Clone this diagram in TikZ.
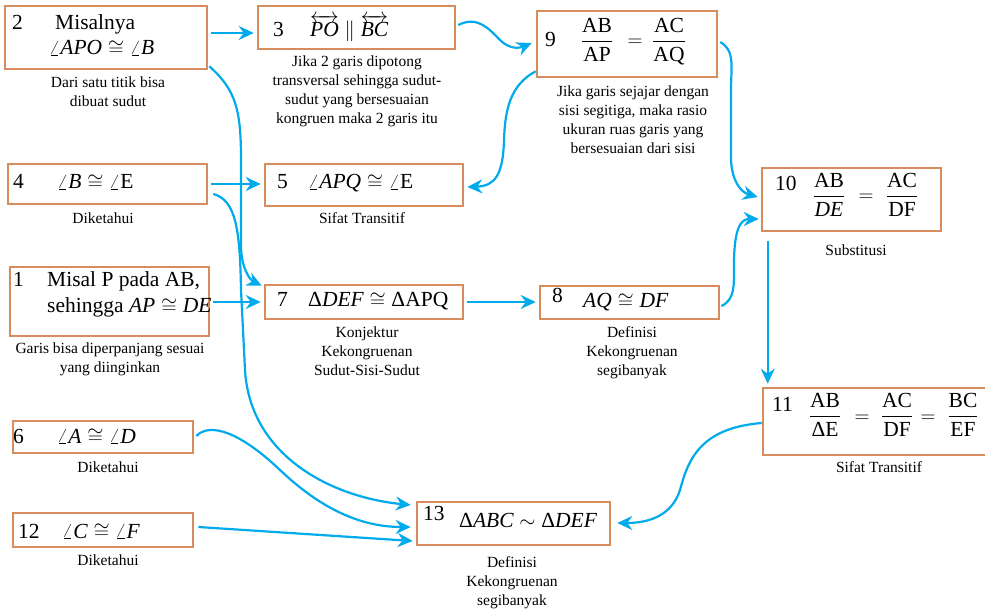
\documentclass[tikz,border=0pt]{standalone}
\usepackage{amsmath}
\usepackage{fontspec}
\setmainfont{Liberation Serif}
\usetikzlibrary{arrows.meta,calc}
\definecolor{boxc}{RGB}{214,140,92}
\definecolor{arrc}{RGB}{0,170,235}
\newcommand\boxfont{\fontsize{21.5}{25}\selectfont}
\newcommand\capfont{\fontsize{15.5}{19}\selectfont}
\begin{document}
\begin{tikzpicture}[x=1pt,y=-1pt,
 box/.style={draw=boxc,line width=2.6pt,inner sep=0pt,rectangle},
 txt/.style={anchor=base west,inner sep=0pt,font=\boxfont},
 ctr/.style={anchor=base,inner sep=0pt,font=\boxfont},
 capt/.style={anchor=base,inner sep=0pt,font=\capfont,align=center},
 arr/.style={draw=arrc,line width=2.2pt,-{Stealth[length=15pt,width=14pt,inset=5pt]}}]
\useasboundingbox (0,0) rectangle (985,609);

% boxes
\node[box,minimum width=202pt,minimum height=63pt] (n2) at (106,37.5) {};
\node[box,minimum width=197pt,minimum height=43pt] (n3) at (356.5,27.5) {};
\node[box,minimum width=180pt,minimum height=66pt] (n9) at (627,44) {};
\node[box,minimum width=199pt,minimum height=40pt] (n4) at (107.5,184) {};
\node[box,minimum width=198pt,minimum height=42pt] (n5) at (364,185) {};
\node[box,minimum width=199pt,minimum height=69pt] (n1) at (109.5,301.5) {};
\node[box,minimum width=198pt,minimum height=34pt] (n7) at (364,302) {};
\node[box,minimum width=179pt,minimum height=33pt] (n8) at (629.5,302.5) {};
\node[box,minimum width=179pt,minimum height=63pt] (n10) at (851.5,199.5) {};
\node[box,minimum width=232pt,minimum height=67pt] (n11) at (879,421.5) {};
\node[box,minimum width=180pt,minimum height=32pt] (n6) at (103,437) {};
\node[box,minimum width=180pt,minimum height=34pt] (n12) at (103,530) {};
\node[box,minimum width=193pt,minimum height=43pt] (n13) at (513.5,523.5) {};

% box texts
\node[txt] (t2a) at (12,30) {2};
\node[txt] (t2b) at (55,30) {Misalnya};
\node[txt] (t2c) at (49,55) {$\angle\textit{APO}\cong\angle\textit{B}$};
\node[txt] (t3a) at (273,37) {3};
\node[txt] (t3b) at (310,37) {$\overleftrightarrow{\textit{PO}}\parallel\overleftrightarrow{\textit{BC}}$};
\node[txt] (t9a) at (545,47) {9};
\node[ctr] (t9b) at (597,47) {$\dfrac{\text{AB}}{\text{AP}}$};
\node[ctr] (t9c) at (635,47) {$=$};
\node[ctr] (t9d) at (669,47) {$\dfrac{\text{AC}}{\text{AQ}}$};
\node[txt] (t4a) at (13,189) {4};
\node[txt] (t4b) at (57,189) {$\angle\textit{B}\cong\angle\text{E}$};
\node[txt] (t5a) at (277,189) {5};
\node[txt] (t5b) at (308,189) {$\angle\textit{APQ}\cong\angle\text{E}$};
\node[txt] (t1a) at (13,287) {1};
\node[txt] (t1b) at (47,287) {Misal P pada AB,};
\node[txt] (t1c) at (47,313) {sehingga $\textit{AP}\cong\textit{DE}$};
\node[txt] (t7a) at (277,307) {7};
\node[txt] (t7b) at (308,307) {$\text{Δ}\textit{DEF}\cong\text{ΔAPQ}$};
\node[txt] (t8a) at (552,303) {8};
\node[txt] (t8b) at (583,308) {$\textit{AQ}\cong\textit{DF}$};
\node[txt] (t10a) at (775,191) {10};
\node[ctr] (t10b) at (829,202) {$\dfrac{\text{AB}}{\textit{DE}}$};
\node[ctr] (t10c) at (866,202) {$=$};
\node[ctr] (t10d) at (902,202) {$\dfrac{\text{AC}}{\text{DF}}$};
\node[txt] (t11a) at (772,411) {11};
\node[ctr] (t11b) at (825,422) {$\dfrac{\text{AB}}{\text{ΔE}}$};
\node[ctr] (t11c) at (862,422) {$=$};
\node[ctr] (t11d) at (897,422) {$\dfrac{\text{AC}}{\text{DF}}$};
\node[ctr] (t11e) at (928,422) {$=$};
\node[ctr] (t11f) at (963,422) {$\dfrac{\text{BC}}{\text{EF}}$};
\node[txt] (t6a) at (13,443) {6};
\node[txt] (t6b) at (57,443) {$\angle\textit{A}\cong\angle\textit{D}$};
\node[txt] (t12a) at (18,538) {12};
\node[txt] (t12b) at (62,538) {$\angle\textit{C}\cong\angle\textit{F}$};
\node[txt] (t13a) at (423,520) {13};
\node[txt] (t13b) at (459,527) {$\text{Δ}\textit{ABC}\sim\text{Δ}\textit{DEF}$};

% captions (anchored at the baseline of their last line)
\node[capt] (c2) at (108,107) {Dari satu titik bisa\\dibuat sudut};
\node[capt] (c3) at (357,124) {Jika 2 garis dipotong\\transversal sehingga sudut-\\sudut yang bersesuaian\\kongruen maka 2 garis itu};
\node[capt] (c9) at (633,154) {Jika garis sejajar dengan\\sisi segitiga, maka rasio\\ukuran ruas garis yang\\bersesuaian dari sisi};
\node[capt] (c4) at (103,224) {Diketahui};
\node[capt] (c5) at (362,224) {Sifat Transitif};
\node[capt] (c1) at (110,373) {Garis bisa diperpanjang sesuai\\yang diinginkan};
\node[capt] (c7) at (367,376) {Konjektur\\Kekongruenan\\Sudut-Sisi-Sudut};
\node[capt] (c8) at (632,376) {Definisi\\Kekongruenan\\segibanyak};
\node[capt] (c10) at (856,256) {Substitusi};
\node[capt] (c11) at (879,472) {Sifat Transitif};
\node[capt] (c6) at (108,472) {Diketahui};
\node[capt] (c12) at (108,565) {Diketahui};
\node[capt] (c13) at (512,605) {Definisi\\Kekongruenan\\segibanyak};

% straight connectors
\draw[arr] ($(n2.east)+(3,-4.5)$) -- ($(n3.west)+(-3,5.5)$);
\draw[arr] ($(n4.east)+(3,0)$) -- ($(n5.west)+(-3,-1)$);
\draw[arr] ($(n1.east)+(3,0.5)$) -- ($(n7.west)+(-3,0)$);
\draw[arr] ($(n7.east)+(3,0)$) -- ($(n8.west)+(-3,-0.5)$);
\draw[arr] ($(n10.south west)+(7,9)$) -- ($(n11.north west)+(6,-3)$);
\draw[arr] ($(n12.east)+(4,-3)$) -- ($(n13.west)+(-3,17.5)$);

% curved connectors
\draw[arr] ($(n2.south east)+(1,-4)$) .. controls (236,90) and (241,110) .. (241,160)
  -- (241,245) .. controls (241,268) and (250,280) .. ($(n7.north west)+(-2,2)$);
\draw[arr] ($(n4.east)+(5,10)$) .. controls (236,200) and (240,230) .. (241,290)
  -- (245,370) .. controls (250,455) and (330,497) .. ($(n13.west)+(-5,-18.5)$);
\draw[arr] ($(n6.east)+(2,-1)$) .. controls (210,422) and (240,432) .. (280,470)
  .. controls (320,508) and (360,527) .. ($(n13.west)+(-5,3.5)$);
\draw[arr] ($(n11.west)+(0,1.5)$) .. controls (700,428) and (688,460) .. (680,490)
  .. controls (672,515) and (650,523) .. ($(n13.east)+(6,-0.5)$);
\draw[arr] ($(n3.east)+(2,-2.5)$) .. controls (478,15) and (490,30) .. (500,40)
  .. controls (510,50) and (520,48) .. ($(n9.west)+(-4,-1)$);
\draw[arr] ($(n9.south west)+(0,-7)$) .. controls (510,85) and (505,110) .. (504,140)
  .. controls (503,175) and (495,186) .. ($(n5.east)+(3,2)$);
\draw[arr] ($(n9.east)+(2,-2)$) .. controls (733,50) and (732,60) .. (731,85)
  -- (731,160) .. controls (732,180) and (740,192) .. ($(n10.west)+(-3,-2.5)$);
\draw[arr] ($(n8.east)+(1,3.5)$) .. controls (735,300) and (734,285) .. (734,265)
  .. controls (734,225) and (742,219) .. ($(n10.west)+(-2,19.5)$);
\end{tikzpicture}
\end{document}
